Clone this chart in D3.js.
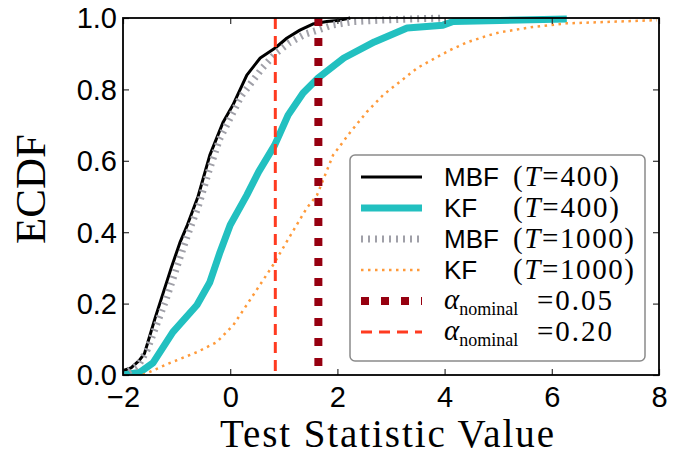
<!DOCTYPE html>
<html>
<head>
<meta charset="utf-8">
<script src="https://cdn.jsdelivr.net/npm/d3@7"></script>
<style>
  html, body { margin: 0; padding: 0; background: #fff; }
  svg { display: block; }
</style>
</head>
<body>
<svg id="chart" width="695" height="457"></svg>
<script>
// ECDF curves: x = test statistic, F = cumulative share
const mbf400X = [-2.0, -1.85, -1.7, -1.6, -1.5, -1.4, -1.25, -1.1, -0.94, -0.8, -0.6, -0.38, -0.13, 0.05, 0.31, 0.56, 0.84, 1.06, 1.3, 1.54, 1.8, 2.05, 2.24];
const mbf400F = [0.012, 0.02, 0.04, 0.06, 0.11, 0.16, 0.23, 0.3, 0.37, 0.42, 0.5, 0.616, 0.709, 0.756, 0.84, 0.888, 0.916, 0.944, 0.966, 0.983, 0.99, 0.994, 1.0];

const kf400X = [-2.0, -1.68, -1.44, -1.07, -0.62, -0.38, -0.19, 0.0, 0.31, 0.53, 0.83, 1.08, 1.36, 1.64, 2.12, 2.69, 3.3, 3.97, 4.16, 5.03, 6.28];
const kf400F = [0.0, 0.008, 0.034, 0.12, 0.196, 0.26, 0.344, 0.42, 0.504, 0.569, 0.644, 0.728, 0.79, 0.832, 0.888, 0.933, 0.972, 0.98, 0.99, 0.993, 0.997];

const mbf1000X = [-2.0, -1.9, -1.7, -1.55, -1.4, -1.2, -1.0, -0.8, -0.6, -0.4, -0.2, 0.0, 0.2, 0.4, 0.6, 0.84, 1.1, 1.4, 1.65, 1.9, 2.3, 2.8, 3.3, 4.0];
const mbf1000F = [0.0, 0.01, 0.03, 0.07, 0.13, 0.21, 0.3, 0.39, 0.47, 0.57, 0.66, 0.72, 0.78, 0.82, 0.86, 0.9, 0.93, 0.955, 0.967, 0.98, 0.99, 0.994, 0.997, 1.0];

const kf1000X = [-1.63, -1.12, -0.62, -0.25, 0.06, 0.43, 0.8, 1.12, 1.43, 1.62, 1.92, 2.24, 2.55, 2.85, 3.17, 3.49, 3.78, 4.1, 4.42, 4.79, 5.03, 5.65, 6.28, 7.2, 7.96];
const kf1000F = [0.0, 0.034, 0.064, 0.092, 0.14, 0.224, 0.308, 0.39, 0.468, 0.504, 0.616, 0.68, 0.737, 0.784, 0.822, 0.86, 0.884, 0.91, 0.932, 0.95, 0.96, 0.975, 0.985, 0.99, 0.994];

const alpha05 = 1.645;
const alpha20 = 0.8416;

const xTicks = [-2, 0, 2, 4, 6, 8];
const yTicks = [0, 0.2, 0.4, 0.6, 0.8, 1.0];

const series = [
  { xs: mbf400X, fs: mbf400F, color: '#000000', width: 3, dash: null },
  { xs: kf400X, fs: kf400F, color: '#22c0c0', width: 7, dash: null },
  { xs: mbf1000X, fs: mbf1000F, color: '#a0a0a8', width: 7, dash: '2,5' },
  { xs: kf1000X, fs: kf1000F, color: '#ff9a3a', width: 2.5, dash: '2.5,4.5' }
];
const vlines = [
  { v: alpha05, color: '#960010', width: 8, dash: '8,12' },
  { v: alpha20, color: '#ff3b20', width: 3, dash: '11,7' }
];

const svg = d3.select('#chart');
const plotL = 123, plotR = 659, plotT = 18, plotB = 375;
const x = d3.scaleLinear().domain([-2, 8]).range([plotL, plotR]);
const y = d3.scaleLinear().domain([0, 1]).range([plotB, plotT]);

svg.append('clipPath').attr('id', 'plotclip')
  .append('rect')
  .attr('x', plotL).attr('y', plotT - 4)
  .attr('width', plotR - plotL).attr('height', plotB - plotT + 4);

const plot = svg.append('g').attr('clip-path', 'url(#plotclip)');

const line = d3.line().x(d => x(d[0])).y(d => y(d[1]));

series.forEach(s => {
  plot.append('path')
    .datum(s.xs.map((v, i) => [v, s.fs[i]]))
    .attr('fill', 'none')
    .attr('stroke', s.color)
    .attr('stroke-width', s.width)
    .attr('stroke-dasharray', s.dash)
    .attr('stroke-linejoin', 'round')
    .attr('d', line);
});

vlines.forEach(l => {
  plot.append('line')
    .attr('x1', x(l.v)).attr('x2', x(l.v))
    .attr('y1', y(1)).attr('y2', y(0))
    .attr('stroke', l.color)
    .attr('stroke-width', l.width)
    .attr('stroke-dasharray', l.dash);
});

// axes, ticks pointing inward on all four sides
const tickFont = "'Liberation Sans', Arial, sans-serif";
const fmtX = d => d < 0 ? '\u2212' + Math.abs(d) : String(d);

const xAxis = svg.append('g').attr('transform', `translate(0,${plotB})`)
  .call(d3.axisBottom(x).tickValues(xTicks).tickSize(-6).tickPadding(11).tickFormat(fmtX));
const yAxis = svg.append('g').attr('transform', `translate(${plotL},0)`)
  .call(d3.axisLeft(y).tickValues(yTicks).tickSize(-6).tickPadding(6).tickFormat(d3.format('.1f')));
svg.append('g').attr('transform', `translate(0,${plotT})`)
  .call(d3.axisTop(x).tickValues(xTicks).tickSize(-6).tickFormat(''));
svg.append('g').attr('transform', `translate(${plotR},0)`)
  .call(d3.axisRight(y).tickValues(yTicks).tickSize(-6).tickFormat(''));

svg.selectAll('.domain').remove();
svg.selectAll('.tick line').attr('stroke', '#333').attr('stroke-width', 1.2);
xAxis.selectAll('text').attr('font-family', tickFont).attr('font-size', 29).attr('fill', '#000');
yAxis.selectAll('text').attr('font-family', tickFont).attr('font-size', 29).attr('fill', '#000')
  .attr('dy', '0.34em');

svg.append('rect')
  .attr('x', plotL).attr('y', plotT)
  .attr('width', plotR - plotL).attr('height', plotB - plotT)
  .attr('fill', 'none').attr('stroke', '#000').attr('stroke-width', 1.8);

// axis titles
const serif = "'Liberation Serif', 'Times New Roman', serif";
svg.append('text')
  .attr('x', 387).attr('y', 447)
  .attr('text-anchor', 'middle')
  .attr('font-family', serif).attr('font-size', 39)
  .attr('textLength', 334).attr('lengthAdjust', 'spacing')
  .text('Test Statistic Value');
svg.append('text')
  .attr('transform', 'translate(45,189) rotate(-90)')
  .attr('text-anchor', 'middle')
  .attr('font-family', serif).attr('font-size', 43)
  .text('ECDF');

// legend
const legend = svg.append('g');
legend.append('rect')
  .attr('x', 350).attr('y', 155).attr('width', 295).attr('height', 206)
  .attr('rx', 5).attr('fill', '#fff').attr('stroke', '#8a8a8a').attr('stroke-width', 1.5);

const rows = [
  { style: series[0], name: 'MBF', T: '400' },
  { style: series[1], name: 'KF', T: '400' },
  { style: series[2], name: 'MBF', T: '1000' },
  { style: series[3], name: 'KF', T: '1000' },
  { style: vlines[0], alpha: '0.05' },
  { style: vlines[1], alpha: '0.20' }
];

rows.forEach((r, i) => {
  const cy = 177 + i * 31;
  legend.append('line')
    .attr('x1', 361).attr('x2', 422).attr('y1', cy).attr('y2', cy)
    .attr('stroke', r.style.color)
    .attr('stroke-width', r.style.width)
    .attr('stroke-dasharray', r.style.dash);
  if (r.name) {
    legend.append('text')
      .attr('x', 444).attr('y', cy + 9)
      .attr('font-family', tickFont).attr('font-size', 26)
      .text(r.name);
    const t = legend.append('text')
      .attr('x', 513).attr('y', cy + 9)
      .attr('font-family', serif).attr('font-size', 29)
      .attr('textLength', r.T.length === 3 ? 106 : 121)
      .attr('lengthAdjust', 'spacing');
    t.append('tspan').text('(');
    t.append('tspan').attr('font-style', 'italic').text('T');
    t.append('tspan').text('=' + r.T + ')');
  } else {
    const t = legend.append('text')
      .attr('x', 444).attr('y', cy + 8)
      .attr('font-family', serif).attr('font-size', 29);
    t.append('tspan').attr('font-style', 'italic').text('\u03b1');
    t.append('tspan').attr('font-size', 18).attr('dy', 6).text('nominal');
    legend.append('text')
      .attr('x', 537).attr('y', cy + 9)
      .attr('font-family', serif).attr('font-size', 29)
      .attr('textLength', 75).attr('lengthAdjust', 'spacing')
      .text('=' + r.alpha);
  }
});
</script>
</body>
</html>
